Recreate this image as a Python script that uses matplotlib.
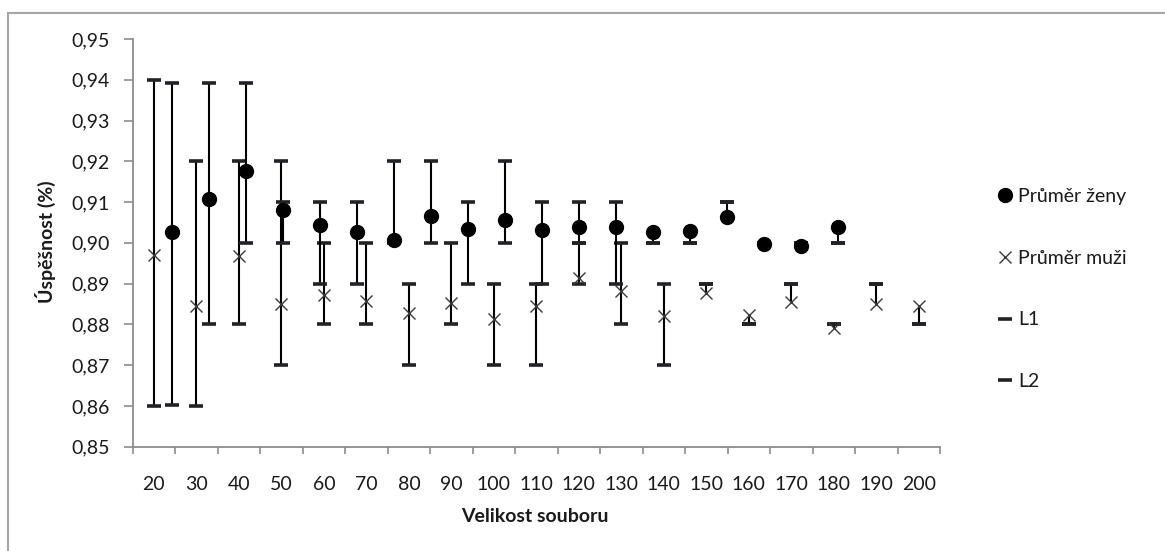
import numpy as np
import matplotlib
matplotlib.use('Agg')
from matplotlib import pyplot as plt
from matplotlib.lines import Line2D
from matplotlib.patches import Rectangle

plt.rcParams['font.family'] = ['Lato', 'DejaVu Sans']

# Velikost souboru (categories)
sizes = [20, 30, 40, 50, 60, 70, 80, 90, 100, 110, 120, 130, 140, 150, 160, 170, 180, 190, 200]

# Průměr muži + bounds
muzi = [0.8971, 0.8846, 0.8968, 0.8849, 0.8871, 0.8857, 0.8828, 0.8853, 0.8814, 0.8846,
        0.8914, 0.8881, 0.8820, 0.8877, 0.8824, 0.8854, 0.8791, 0.8851, 0.8846]
muzi_L1 = [0.940, 0.920, 0.920, 0.920, 0.900, 0.900, 0.890, 0.900, 0.890, 0.890,
           0.900, 0.900, 0.890, 0.890, 0.880, 0.890, 0.880, 0.890, 0.880]
muzi_L2 = [0.860, 0.860, 0.880, 0.870, 0.880, 0.880, 0.870, 0.880, 0.870, 0.870,
           0.890, 0.880, 0.870, 0.890, 0.880, 0.890, 0.880, 0.890, 0.880]

# Průměr ženy + bounds
zeny = [0.9026, 0.9108, 0.9177, 0.9080, 0.9043, 0.9026, 0.9008, 0.9065, 0.9034, 0.9057,
        0.9031, 0.9039, 0.9039, 0.9026, 0.9029, 0.9064, 0.8998, 0.8992, 0.9038]
zeny_L1 = [0.9392, 0.9392, 0.9392, 0.910, 0.910, 0.910, 0.920, 0.920, 0.910, 0.920,
           0.910, 0.910, 0.910, 0.900, 0.900, 0.910, 0.900, 0.900, 0.900]
zeny_L2 = [0.8602, 0.880, 0.900, 0.900, 0.890, 0.890, 0.900, 0.900, 0.890, 0.900,
           0.890, 0.900, 0.890, 0.900, 0.900, 0.910, 0.900, 0.900, 0.900]

yticks = [0.85, 0.86, 0.87, 0.88, 0.89, 0.90, 0.91, 0.92, 0.93, 0.94, 0.95]

W, H = 1165, 551
FS = 14
axis_col = '#8c8c8c'
cap_col = '#1f2328'
txt_col = '#1a1a1a'


def draw_series(ax, x, vals, hi, lo, marker_kw):
    vals, hi, lo = np.array(vals), np.array(hi), np.array(lo)
    top = np.maximum(hi, vals)
    bot = np.minimum(lo, vals)
    ax.vlines(x, bot, top, color='black', lw=1.5, zorder=2)
    ax.plot(x, hi, ls='', marker='_', ms=10, mew=2.6, color=cap_col, zorder=3)
    ax.plot(x, lo, ls='', marker='_', ms=10, mew=2.6, color=cap_col, zorder=3)
    ax.plot(x, vals, ls='', zorder=4, **marker_kw)


fig = plt.figure(figsize=(W / 100, H / 100), dpi=100)
ax = fig.add_axes([132.7 / W, (H - 446.7) / H, (940 - 132.7) / W, (446.7 - 39) / H])

muzi_kw = dict(marker='x', ms=9, mew=1.0, color='#3a3a3a')
zeny_kw = dict(marker='o', ms=10, color='black')

draw_series(ax, sizes, muzi, muzi_L1, muzi_L2, muzi_kw)

# second series sits on its own (secondary) x scale, as in the original sheet
ax2 = ax.twiny()
draw_series(ax2, sizes, zeny, zeny_L1, zeny_L2, zeny_kw)
ax2.set_xlim(9.5, 227.5)
ax2.xaxis.set_visible(False)
for s in ax2.spines.values():
    s.set_visible(False)

ax.set_xlim(15, 205)
ax.set_ylim(0.85, 0.95)
ax.set_yticks(yticks)
ax.set_yticklabels(['{:.2f}'.format(v).replace('.', ',') for v in yticks])
ax.set_xticks(np.arange(15, 206, 10))
ax.set_xticklabels([])
ax.set_xticks(sizes, minor=True)
ax.set_xticklabels([str(s) for s in sizes], minor=True)
ax.tick_params(axis='x', which='major', length=5, width=1.2, color=axis_col, direction='out')
ax.tick_params(axis='x', which='minor', length=0, pad=21, labelsize=FS, labelcolor=txt_col)
ax.tick_params(axis='y', length=6.5, width=1.2, color=axis_col, pad=10, labelsize=FS,
               labelcolor=txt_col)

for side in ['top', 'right']:
    ax.spines[side].set_visible(False)
for side in ['left', 'bottom']:
    ax.spines[side].set_color(axis_col)
    ax.spines[side].set_linewidth(1.3)

fig.text(535 / W, 1 - 517 / H, 'Velikost souboru', ha='center', va='center',
         fontsize=FS, fontweight='bold', color=txt_col)
fig.text(45 / W, 1 - 242 / H, 'Úspěšnost (%)', ha='center', va='center',
         fontsize=FS, fontweight='bold', rotation=90, color=txt_col)

handles = [
    Line2D([], [], ls='', **zeny_kw),
    Line2D([], [], ls='', **muzi_kw),
    Line2D([], [], ls='', marker='_', ms=10, mew=2.6, color=cap_col),
    Line2D([], [], ls='', marker='_', ms=10, mew=2.6, color=cap_col),
]
labels = ['Průměr ženy', 'Průměr muži', 'L1', 'L2']
fig.legend(handles, labels, loc='upper left', bbox_to_anchor=(997 / W, 1 - 188 / H),
           frameon=False, fontsize=FS, handlelength=0.8, handletextpad=0.3,
           labelspacing=2.3, borderpad=0, borderaxespad=0, labelcolor=txt_col)

# chart area border (cropped on the right and bottom)
fig.add_artist(Rectangle((8 / W, -0.1), 2.0, (1 - 13 / H) + 0.1, transform=fig.transFigure,
                         fill=False, edgecolor='#a6a6a6', lw=1.5))

fig.savefig('out.png', dpi=100)
